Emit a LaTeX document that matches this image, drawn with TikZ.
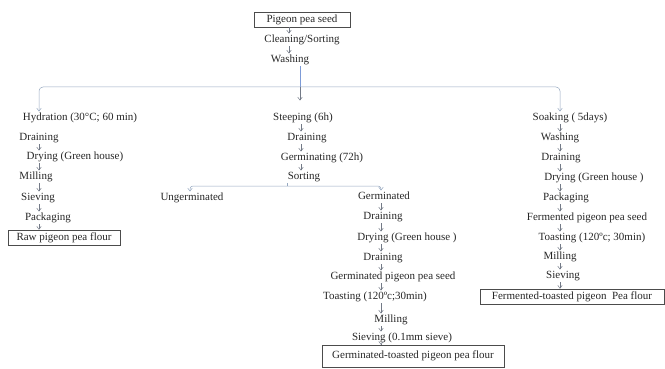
\documentclass[tikz,border=0pt]{standalone}
\usepackage{fontspec}
\setmainfont{Liberation Serif}
\usepackage{tikz}
\usetikzlibrary{arrows.meta}
\definecolor{arrowgray}{RGB}{115,122,135}
\definecolor{linegray}{RGB}{150,168,192}
\definecolor{lineblue}{RGB}{125,155,215}

\begin{document}
\begin{tikzpicture}[x=1pt, y=-1pt,
	every node/.style={font=\fontsize{11}{13}\selectfont, text=black!85},
	stage/.style={inner sep=1pt, text height=8pt, text depth=2.5pt},
	endbox/.style={draw=black!70, line width=0.6pt, inner sep=0pt, text height=8pt, text depth=2.5pt, minimum height=15pt},
	flow/.style={draw=arrowgray, line width=0.5pt, -{Straight Barb[length=3pt, width=4.5pt]}},
	branch/.style={draw=linegray, line width=0.5pt}]
	\useasboundingbox (0,0) rectangle (665,369);
	% top of the chart
	\node[endbox, minimum width=96pt] (seed) at (302,19.5) {Pigeon pea seed};
	\node[stage] (clean) at (302,40) {Cleaning/Sorting};
	\node[stage] (wash) at (290,60) {Washing};
	\coordinate (hub) at (300,87);
	\coordinate (colT) at (289,0);
	\coordinate (colL) at (39,0);
	\coordinate (colS) at (301,0);
	\coordinate (colG) at (381,0);
	\coordinate (colR) at (560,0);
	\foreach \a/\b in {seed/clean, clean/wash} {\draw[flow] (\a.south -| colT) -- (\b.north -| colT);}
	% hydration branch
	\node[stage] (hyd) at (80,118) {Hydration (30°C; 60 min)};
	\node[stage] (dr1) at (39,138) {Draining};
	\node[stage] (dy1) at (75,157) {Drying (Green house)};
	\node[stage] (mi1) at (36,177) {Milling};
	\node[stage] (si1) at (38,198) {Sieving};
	\node[stage] (pk1) at (48,218) {Packaging};
	\node[endbox, minimum width=112pt] (raw) at (64,237.5) {Raw pigeon pea flour};
	\foreach \a/\b in {dr1/dy1, dy1/mi1, mi1/si1, si1/pk1, pk1/raw} {\draw[flow] (\a.south -| colL) -- (\b.north -| colL);}
	% steeping branch
	\node[stage] (steep) at (303,118) {Steeping (6h)};
	\node[stage] (dr2) at (307,138) {Draining};
	\node[stage] (germi) at (322,158) {Germinating (72h)};
	\node[stage] (sort) at (304,177) {Sorting};
	\foreach \a/\b in {steep/dr2, dr2/germi, germi/sort} {\draw[flow] (\a.south -| colS) -- (\b.north -| colS);}
	\coordinate (sorthub) at (287,186);
	\node[stage] (ungerm) at (192,198) {Ungerminated};
	\node[stage] (germ) at (384,197) {Germinated};
	\node[stage] (dr3) at (383,217) {Draining};
	\node[stage] (dy3) at (407,238) {Drying (Green house )};
	\node[stage] (dr4) at (383,258) {Draining};
	\node[stage] (gseed) at (393,277) {Germinated pigeon pea seed};
	\node[stage] (to3) at (375,297) {Toasting (120ºc;30min)};
	\node[stage] (mi3) at (391,320) {Milling};
	\node[stage] (si3) at (402,338) {Sieving (0.1mm sieve)};
	\node[endbox, minimum width=182pt, minimum height=22pt] (gflour) at (413,356) {Germinated-toasted pigeon pea flour};
	\foreach \a/\b in {germ/dr3, dr3/dy3, dy3/dr4, dr4/gseed, gseed/to3, to3/mi3, mi3/si3, si3/gflour} {\draw[flow] (\a.south -| colG) -- (\b.north -| colG);}
	% soaking branch
	\node[stage] (soak) at (570,118) {Soaking ( 5days)};
	\node[stage] (wa5) at (560,138) {Washing};
	\node[stage] (dr5) at (561,158) {Draining};
	\node[stage] (dy5) at (594,178) {Drying (Green house )};
	\node[stage] (pk5) at (566,198) {Packaging};
	\node[stage] (fseed) at (587,218) {Fermented pigeon pea seed};
	\node[stage] (to5) at (592,238) {Toasting (120ºc; 30min)};
	\node[stage] (mi5) at (560,257) {Milling};
	\node[stage] (si5) at (563,276) {Sieving};
	\node[endbox, minimum width=184pt] (fflour) at (572,296.5) {Fermented-toasted pigeon\ \ Pea flour};
	\foreach \a/\b in {soak/wa5, wa5/dr5, dr5/dy5, dy5/pk5, pk5/fseed, fseed/to5, to5/mi5, mi5/si5, si5/fflour} {\draw[flow] (\a.south -| colR) -- (\b.north -| colR);}
	% splitting lines
	\draw[branch, draw=lineblue] (wash.south -| hub) -- (hub);
	\draw[branch, rounded corners=4pt, -{Straight Barb[length=3pt, width=4.5pt]}] (hub) -| (hyd.north -| colL);
	\draw[branch, rounded corners=4pt, -{Straight Barb[length=3pt, width=4.5pt]}] (hub) -| (soak.north -| colR);
	\draw[flow, shorten >=11pt] (hub) -- (steep.north -| hub);
	\draw[branch] (sort.south -| sorthub) -- (sorthub);
	\draw[branch, rounded corners=3pt, -{Straight Barb[length=3pt, width=4.5pt]}] (sorthub) -| (ungerm.north -| 190,0);
	\draw[branch, rounded corners=3pt, -{Straight Barb[length=3pt, width=4.5pt]}] (sorthub) -| (germ.north -| colG);
\end{tikzpicture}
\end{document}
